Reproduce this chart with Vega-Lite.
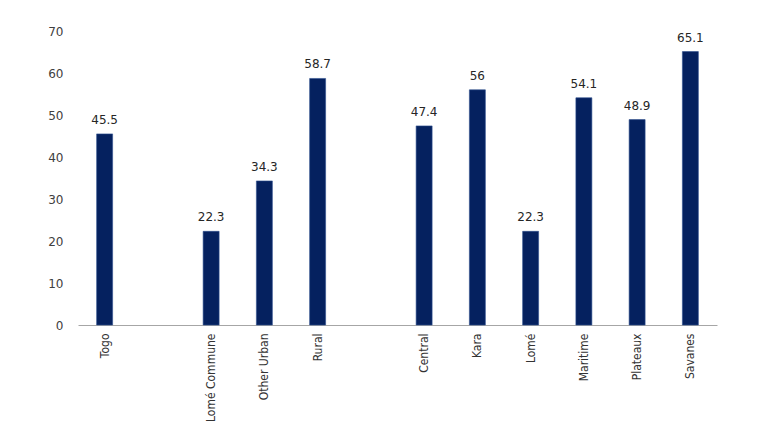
{
  "$schema": "https://vega.github.io/schema/vega-lite/v6.json",
  "autosize": {"type": "none"},
  "width": 639,
  "height": 294,
  "padding": {"left": 78, "top": 31, "right": 63, "bottom": 114},
  "background": "white",
  "data": {
    "values": [
      {"area": "Togo", "pct": 45.5},
      {"area": "Lomé Commune", "pct": 22.3},
      {"area": "Other Urban", "pct": 34.3},
      {"area": "Rural", "pct": 58.7},
      {"area": "Central", "pct": 47.4},
      {"area": "Kara", "pct": 56},
      {"area": "Lomé", "pct": 22.3},
      {"area": "Maritime", "pct": 54.1},
      {"area": "Plateaux", "pct": 48.9},
      {"area": "Savanes", "pct": 65.1}
    ]
  },
  "config": {
    "view": {"stroke": null},
    "axis": {"labelColor": "#404040", "labelFont": "DejaVu Sans"}
  },
  "encoding": {
    "x": {
      "field": "area",
      "type": "nominal",
      "sort": null,
      "scale": {
        "domain": ["Togo", "gap1", "Lomé Commune", "Other Urban", "Rural", "gap2", "Central", "Kara", "Lomé", "Maritime", "Plateaux", "Savanes"],
        "paddingInner": 0.7,
        "paddingOuter": 0.35
      },
      "axis": {
        "title": null,
        "labelAngle": 270,
        "labelAlign": "right",
        "labelBaseline": "middle",
        "labelPadding": 8,
        "labelFont": "DejaVu Sans Condensed, Liberation Sans, sans-serif",
        "labelFontSize": 12,
        "labelColor": "#333333",
        "labelExpr": "indexof(datum.value, 'gap') === 0 ? '' : datum.value",
        "ticks": false,
        "domainColor": "#a6a6a6",
        "domainWidth": 1
      }
    },
    "y": {
      "field": "pct",
      "type": "quantitative",
      "scale": {"domain": [0, 70], "nice": false},
      "axis": {
        "title": null,
        "values": [0, 10, 20, 30, 40, 50, 60, 70],
        "grid": false,
        "domain": false,
        "ticks": false,
        "labelPadding": 15,
        "labelFontSize": 12
      }
    }
  },
  "layer": [
    {
      "mark": {"type": "bar", "color": "#05215f", "stroke": "#2e4f8f", "strokeWidth": 0.6}
    },
    {
      "mark": {"type": "text", "baseline": "bottom", "dy": -7, "font": "DejaVu Sans", "fontSize": 12, "color": "#262626"},
      "encoding": {"text": {"field": "pct", "type": "quantitative"}}
    }
  ]
}
